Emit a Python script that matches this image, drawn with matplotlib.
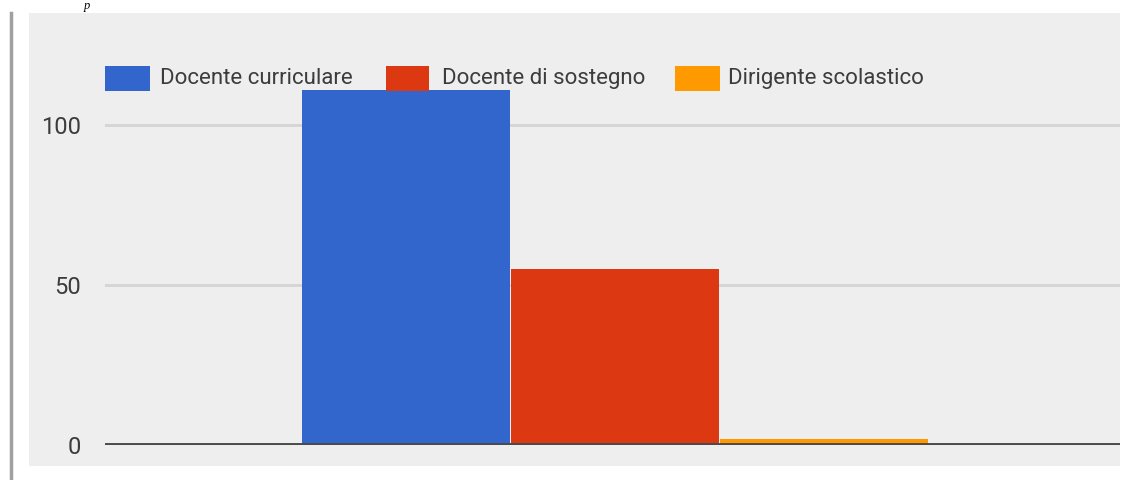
import matplotlib
matplotlib.use("Agg")
import matplotlib.pyplot as plt
from matplotlib.patches import Rectangle
from matplotlib.lines import Line2D

# Respondent roles and their counts
categories = ["Docente curriculare", "Docente di sostegno", "Dirigente scolastico"]
counts = [111, 55, 2]
colors = ["#3366cc", "#dc3912", "#ff9900"]
yticks = [0, 50, 100]

W, H = 1128, 480
fig = plt.figure(figsize=(W / 100, H / 100), dpi=100)
fig.patch.set_facecolor("white")

def fx(px):
    return px / W

def fy(py):
    return 1 - py / H

# grey panel behind the chart
fig.add_artist(Rectangle((fx(29), fy(466)), fx(1120) - fx(29), fy(13) - fy(466),
                         transform=fig.transFigure, facecolor="#eeeeee",
                         edgecolor="none", zorder=0))
# left rule of the page
fig.add_artist(Line2D([fx(11), fx(11)], [fy(13), 0], transform=fig.transFigure,
                      color="#a0a0a0", lw=2.5, zorder=1))
# fragment of the caption above the panel
fig.text(fx(84), fy(0), "p", family="Liberation Serif", style="italic",
         fontsize=9, color="black", va="top", ha="left")

ax = fig.add_axes([fx(105), fy(445), fx(1120) - fx(105), fy(61) - fy(445)])
ax.set_facecolor("none")
x = [-1, 0, 1]
ax.bar(x, counts, width=0.995, color=colors, edgecolor="none", zorder=3)
ax.set_xlim(-2.438, 2.418)
ax.set_ylim(0, 120)
for v in yticks[1:]:
    ax.axhline(v, color="#d4d4d4", lw=2, zorder=1)
ax.axhline(0, color="#4a4a4a", lw=2.8, zorder=4)
for s in ax.spines.values():
    s.set_visible(False)
ax.set_xticks([])
ax.set_yticks(yticks)
ax.set_yticklabels([str(v) for v in yticks], family="Roboto", fontsize=17,
                   color="#3c3c3c")
ax.tick_params(axis="y", length=0, pad=17)

# legend row along the top
swatches = [(105, 150), (386, 429), (675, 720)]
text_x = [160, 442, 728]
for (x0, x1), tx, lab, c in zip(swatches, text_x, categories, colors):
    fig.add_artist(Rectangle((fx(x0), fy(91)), fx(x1) - fx(x0), fy(66) - fy(91),
                             transform=fig.transFigure, facecolor=c,
                             edgecolor="none", zorder=5))
    fig.text(fx(tx), fy(78.5), lab, family="Roboto", fontsize=16,
             color="#3c3c3c", va="center", ha="left", zorder=5)

fig.savefig("out.png", dpi=100, facecolor="white")
